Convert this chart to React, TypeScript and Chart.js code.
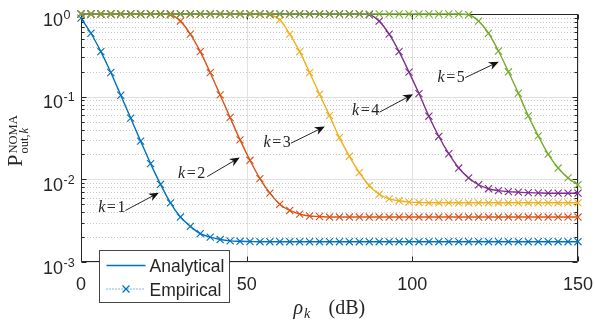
import { useEffect, useRef } from 'react';
import { Chart, registerables } from 'chart.js';

Chart.register(...registerables);

// ---------- data ----------
const RHO_DB = [
  0, 3, 6, 9, 12, 15, 18, 21, 24, 27, 30, 33, 36, 39, 42, 45, 48, 51, 54, 57, 60, 63, 66, 69, 72, 75,
  78, 81, 84, 87, 90, 93, 96, 99, 102, 105, 108, 111, 114, 117, 120, 123, 126, 129, 132, 135, 138,
  141, 144, 147, 150,
];

const P_K1 = [
  0.89, 0.585, 0.35, 0.196, 0.104, 0.055, 0.029, 0.0155, 0.0087, 0.0052, 0.0035, 0.0027, 0.0022,
  0.002, 0.00187, 0.0018, 0.00178, 0.00177, 0.00176, 0.00176, 0.00176, 0.00176, 0.00176, 0.00176,
  0.00176, 0.00176, 0.00176, 0.00176, 0.00176, 0.00176, 0.00176, 0.00176, 0.00176, 0.00176, 0.00176,
  0.00176, 0.00176, 0.00176, 0.00176, 0.00176, 0.00176, 0.00176, 0.00176, 0.00176, 0.00176, 0.00176,
  0.00176, 0.00176, 0.00176, 0.00176, 0.00176,
];

const P_K2 = [
  1, 1, 1, 1, 1, 1, 1, 1, 1, 0.98, 0.82, 0.57, 0.35, 0.195, 0.105, 0.056, 0.03, 0.017, 0.0102,
  0.0068, 0.005, 0.0042, 0.0038, 0.0036, 0.00355, 0.0035, 0.0035, 0.0035, 0.0035, 0.0035, 0.0035,
  0.0035, 0.0035, 0.0035, 0.0035, 0.0035, 0.0035, 0.0035, 0.0035, 0.0035, 0.0035, 0.0035, 0.0035,
  0.0035, 0.0035, 0.0035, 0.0035, 0.0035, 0.0035, 0.0035, 0.0035,
];

const P_K3 = [
  1, 1, 1, 1, 1, 1, 1, 1, 1, 1, 1, 1, 1, 1, 1, 1, 1, 1, 1, 0.98, 0.85, 0.57, 0.35, 0.195, 0.107,
  0.059, 0.032, 0.019, 0.0121, 0.0084, 0.0066, 0.0058, 0.0055, 0.0053, 0.00525, 0.0052, 0.0052,
  0.0052, 0.0052, 0.0052, 0.0052, 0.0052, 0.0052, 0.0052, 0.0052, 0.0052, 0.0052, 0.0052, 0.0052,
  0.0052, 0.0052,
];

const P_K4 = [
  1, 1, 1, 1, 1, 1, 1, 1, 1, 1, 1, 1, 1, 1, 1, 1, 1, 1, 1, 1, 1, 1, 1, 1, 1, 1, 1, 1, 1, 0.98, 0.82,
  0.57, 0.35, 0.198, 0.109, 0.058, 0.033, 0.0204, 0.0137, 0.0104, 0.0086, 0.0077, 0.0073, 0.0071,
  0.007, 0.0069, 0.00685, 0.0068, 0.0068, 0.0068, 0.0068,
];

const P_K5 = [
  1, 1, 1, 1, 1, 1, 1, 1, 1, 1, 1, 1, 1, 1, 1, 1, 1, 1, 1, 1, 1, 1, 1, 1, 1, 1, 1, 1, 1, 1, 1, 1, 1,
  1, 1, 1, 1, 1, 1, 0.98, 0.82, 0.585, 0.357, 0.2, 0.11, 0.0586, 0.0336, 0.0202, 0.0137, 0.0104,
  0.0086,
];

const SERIES = [P_K1, P_K2, P_K3, P_K4, P_K5];
const SERIES_COLORS = ['#0072BD', '#D95319', '#EDB120', '#7E2F8E', '#77AC30'];

const X_MIN = 0;
const X_MAX = 150;
const X_TICKS = [0, 50, 100, 150];
const Y_DECADES = [-3, -2, -1, 0];
const Y_MINOR_MULT = [2, 3, 4, 5, 6, 7, 8, 9];

const LEGEND_LABELS = ['Analytical', 'Empirical'];

// annotations ("k=n" with arrows), in data coordinates
const ANN_K = ['1', '2', '3', '4', '5'];
const ANN_TEXT_X = [9.3, 33.4, 59.2, 85.9, 111.7];
const ANN_TEXT_Y = [0.00454, 0.0117, 0.028, 0.0674, 0.171];
const ANN_TAIL_X = [13.4, 38.1, 63.4, 90.1, 116.0];
const ANN_TAIL_Y = [0.0042, 0.0108, 0.0274, 0.065, 0.17];
const ANN_TIP_X = [23.5, 47.9, 73.6, 100.2, 126.1];
const ANN_TIP_Y = [0.0069, 0.0184, 0.0435, 0.107, 0.265];

// ---------- styling ----------
const SANS = '"Liberation Sans", Arial, Helvetica, sans-serif';
const SERIF = '"Liberation Serif", "Times New Roman", serif';
const AXIS_COLOR = '#262626';

function drawArrow(ctx: CanvasRenderingContext2D, x0: number, y0: number, x1: number, y1: number) {
  const ang = Math.atan2(y1 - y0, x1 - x0);
  const L = 10;
  const W = 4.2;
  const ux = Math.cos(ang);
  const uy = Math.sin(ang);
  const px = -uy;
  const py = ux;
  ctx.strokeStyle = AXIS_COLOR;
  ctx.lineWidth = 1;
  ctx.beginPath();
  ctx.moveTo(x0, y0);
  ctx.lineTo(x1 - ux * L * 0.6, y1 - uy * L * 0.6);
  ctx.stroke();
  ctx.fillStyle = '#111';
  ctx.beginPath();
  ctx.moveTo(x1, y1);
  ctx.lineTo(x1 - ux * L + px * W, y1 - uy * L + py * W);
  ctx.lineTo(x1 - ux * L * 0.7, y1 - uy * L * 0.7);
  ctx.lineTo(x1 - ux * L - px * W, y1 - uy * L - py * W);
  ctx.closePath();
  ctx.fill();
}

const decorPlugin = {
  id: 'matlabDecor',
  beforeDatasetsDraw(chart: any) {
    const { ctx, chartArea: a, scales } = chart;
    const xs = scales.x;
    const ys = scales.y;
    ctx.save();
    // minor horizontal grid (dotted)
    ctx.lineWidth = 1;
    ctx.strokeStyle = 'rgba(120,120,120,0.42)';
    ctx.setLineDash([1, 2]);
    for (const d of Y_DECADES) {
      if (d >= 0) continue;
      for (const m of Y_MINOR_MULT) {
        const y = Math.round(ys.getPixelForValue(m * Math.pow(10, d))) + 0.5;
        ctx.beginPath();
        ctx.moveTo(a.left, y);
        ctx.lineTo(a.right, y);
        ctx.stroke();
      }
    }
    ctx.setLineDash([]);
    // major grid
    ctx.strokeStyle = '#e1e1e1';
    for (const d of Y_DECADES) {
      const y = Math.round(ys.getPixelForValue(Math.pow(10, d))) + 0.5;
      ctx.beginPath();
      ctx.moveTo(a.left, y);
      ctx.lineTo(a.right, y);
      ctx.stroke();
    }
    for (const t of X_TICKS) {
      const x = Math.round(xs.getPixelForValue(t)) + 0.5;
      ctx.beginPath();
      ctx.moveTo(x, a.top);
      ctx.lineTo(x, a.bottom);
      ctx.stroke();
    }
    // box
    ctx.strokeStyle = AXIS_COLOR;
    const L = Math.round(a.left) + 0.5;
    const R = Math.round(a.right) - 0.5;
    const T = Math.round(a.top) + 0.5;
    const B = Math.round(a.bottom) - 0.5;
    ctx.beginPath();
    ctx.moveTo(L, T);
    ctx.lineTo(R, T);
    ctx.lineTo(R, B);
    ctx.lineTo(L, B);
    ctx.closePath();
    ctx.stroke();
    // ticks
    ctx.beginPath();
    for (const d of Y_DECADES) {
      const y = Math.round(ys.getPixelForValue(Math.pow(10, d))) + 0.5;
      ctx.moveTo(L, y);
      ctx.lineTo(L + 5, y);
      ctx.moveTo(R, y);
      ctx.lineTo(R - 5, y);
      if (d < 0) {
        for (const m of Y_MINOR_MULT) {
          const ym = Math.round(ys.getPixelForValue(m * Math.pow(10, d))) + 0.5;
          ctx.moveTo(L, ym);
          ctx.lineTo(L + 3, ym);
          ctx.moveTo(R, ym);
          ctx.lineTo(R - 3, ym);
        }
      }
    }
    for (const t of X_TICKS) {
      const x = Math.round(xs.getPixelForValue(t)) + 0.5;
      ctx.moveTo(x, B);
      ctx.lineTo(x, B - 5);
      ctx.moveTo(x, T);
      ctx.lineTo(x, T + 5);
    }
    ctx.stroke();
    ctx.restore();
  },
  afterDatasetsDraw(chart: any) {
    const { ctx, chartArea: a, scales } = chart;
    const xs = scales.x;
    const ys = scales.y;
    ctx.save();
    ctx.fillStyle = AXIS_COLOR;
    // x tick labels
    ctx.font = `18px ${SANS}`;
    ctx.textAlign = 'center';
    ctx.textBaseline = 'alphabetic';
    for (const t of X_TICKS) {
      ctx.fillText(String(t), xs.getPixelForValue(t), a.bottom + 28);
    }
    // y tick labels 10^d
    for (const d of Y_DECADES) {
      const y = ys.getPixelForValue(Math.pow(10, d));
      ctx.font = `18px ${SANS}`;
      ctx.textAlign = 'right';
      ctx.fillText('10', a.left - 18, y + 11.5);
      ctx.font = `12.5px ${SANS}`;
      ctx.textAlign = 'left';
      ctx.fillText(String(d), a.left - 17.5, y + 4.5);
    }
    // x axis title: rho_k (dB)
    {
      const cx = (a.left + a.right) / 2;
      const by = a.bottom + 52;
      ctx.textAlign = 'left';
      ctx.font = `italic 20px ${SERIF}`;
      const x0 = cx - 36;
      ctx.fillText('ρ', x0, by);
      const wr = ctx.measureText('ρ').width;
      ctx.font = `italic 14px ${SERIF}`;
      ctx.fillText('k', x0 + wr + 1, by + 4);
      ctx.font = `20px ${SERIF}`;
      ctx.fillText('(dB)', cx - 1, by);
    }
    // y axis title: P^{NOMA}_{out,k}
    {
      const cy = (a.top + a.bottom) / 2 + 3;
      ctx.save();
      ctx.translate(22, cy);
      ctx.rotate(-Math.PI / 2);
      ctx.font = `22px ${SERIF}`;
      const wP = ctx.measureText('P').width;
      ctx.font = `12.5px ${SERIF}`;
      const wN = ctx.measureText('NOMA').width;
      const total = wP + 1 + wN;
      const u0 = -total / 2;
      ctx.textAlign = 'left';
      ctx.font = `22px ${SERIF}`;
      ctx.fillText('P', u0, 0);
      ctx.font = `12.5px ${SERIF}`;
      ctx.fillText('NOMA', u0 + wP + 1, -5);
      ctx.fillText('out,', u0 + wP + 1, 6);
      const wo = ctx.measureText('out,').width;
      ctx.font = `italic 12.5px ${SERIF}`;
      ctx.fillText('k', u0 + wP + 1 + wo + 1, 6);
      ctx.restore();
    }
    // annotations
    for (let i = 0; i < ANN_K.length; i++) {
      const tx = xs.getPixelForValue(ANN_TEXT_X[i]);
      const ty = ys.getPixelForValue(ANN_TEXT_Y[i]);
      ctx.fillStyle = AXIS_COLOR;
      ctx.textBaseline = 'middle';
      ctx.font = `italic 16px ${SERIF}`;
      const wk = ctx.measureText('k').width;
      ctx.font = `16px ${SERIF}`;
      const weq = ctx.measureText('=').width;
      const wd = ctx.measureText(ANN_K[i]).width;
      const total = wk + 1.5 + weq + 1.5 + wd;
      let x = tx - total / 2;
      ctx.textAlign = 'left';
      ctx.font = `italic 16px ${SERIF}`;
      ctx.fillText('k', x, ty);
      x += wk + 1.5;
      ctx.font = `16px ${SERIF}`;
      ctx.fillText('=', x, ty);
      x += weq + 1.5;
      ctx.fillText(ANN_K[i], x, ty);
      drawArrow(
        ctx,
        xs.getPixelForValue(ANN_TAIL_X[i]),
        ys.getPixelForValue(ANN_TAIL_Y[i]),
        xs.getPixelForValue(ANN_TIP_X[i]),
        ys.getPixelForValue(ANN_TIP_Y[i]),
      );
    }
    // legend
    {
      const lx = Math.round(a.left + 18) + 0.5;
      const ly = Math.round(a.bottom - 12) + 0.5;
      const lw = 130;
      const lh = 52;
      ctx.fillStyle = '#ffffff';
      ctx.fillRect(lx, ly, lw, lh);
      ctx.strokeStyle = 'rgba(38,38,38,0.85)';
      ctx.lineWidth = 1;
      ctx.strokeRect(lx, ly, lw, lh);
      const c = SERIES_COLORS[0];
      // Analytical
      ctx.strokeStyle = c;
      ctx.lineWidth = 1.3;
      ctx.beginPath();
      ctx.moveTo(lx + 7, ly + 15);
      ctx.lineTo(lx + 46, ly + 15);
      ctx.stroke();
      // Empirical
      ctx.lineWidth = 1;
      ctx.setLineDash([1, 2]);
      ctx.beginPath();
      ctx.moveTo(lx + 7, ly + 38.5);
      ctx.lineTo(lx + 46, ly + 38.5);
      ctx.stroke();
      ctx.setLineDash([]);
      const mx = lx + 26.5;
      const my = ly + 38.5;
      ctx.lineWidth = 1.2;
      ctx.beginPath();
      ctx.moveTo(mx - 3.5, my - 3.5);
      ctx.lineTo(mx + 3.5, my + 3.5);
      ctx.moveTo(mx + 3.5, my - 3.5);
      ctx.lineTo(mx - 3.5, my + 3.5);
      ctx.stroke();
      ctx.fillStyle = AXIS_COLOR;
      ctx.font = `17.5px ${SANS}`;
      ctx.textAlign = 'left';
      ctx.textBaseline = 'alphabetic';
      ctx.fillText(LEGEND_LABELS[0], lx + 50, ly + 21.5);
      ctx.fillText(LEGEND_LABELS[1], lx + 50, ly + 45);
    }
    ctx.restore();
  },
};

export default function App() {
  const ref = useRef<HTMLCanvasElement | null>(null);

  useEffect(() => {
    if (!ref.current) return;
    const analytical = SERIES.map((vals, i) => ({
      label: `Analytical k=${i + 1}`,
      data: RHO_DB.map((x, j) => ({ x, y: vals[j] })),
      borderColor: SERIES_COLORS[i],
      backgroundColor: SERIES_COLORS[i],
      borderWidth: 1.4,
      pointRadius: 0,
      cubicInterpolationMode: 'monotone' as const,
      clip: false as any,
      order: 10 - i,
    }));
    const empirical = SERIES.map((vals, i) => ({
      label: `Empirical k=${i + 1}`,
      data: RHO_DB.map((x, j) => ({ x, y: vals[j] })),
      borderColor: SERIES_COLORS[i],
      backgroundColor: SERIES_COLORS[i],
      showLine: false,
      pointStyle: 'crossRot' as const,
      pointRadius: 5,
      pointBorderWidth: 1.1,
      pointBorderColor: SERIES_COLORS[i],
      clip: false as any,
      order: 5 - i,
    }));
    const chart = new Chart(ref.current, {
      type: 'line',
      data: { datasets: [...analytical, ...empirical] as any },
      options: {
        responsive: false,
        animation: false,
        devicePixelRatio: 1,
        layout: { padding: { left: 81, right: 17, top: 14, bottom: 64 } },
        plugins: { legend: { display: false }, tooltip: { enabled: false } },
        scales: {
          x: { type: 'linear', min: X_MIN, max: X_MAX, display: false },
          y: { type: 'logarithmic', min: 0.001, max: 1, display: false },
        },
      },
      plugins: [decorPlugin],
    });
    return () => chart.destroy();
  }, []);

  return (
    <div style={{ position: 'absolute', left: 0, top: 0, width: 595, height: 326, background: '#fff' }}>
      <canvas ref={ref} width={595} height={326} style={{ display: 'block' }} />
    </div>
  );
}
